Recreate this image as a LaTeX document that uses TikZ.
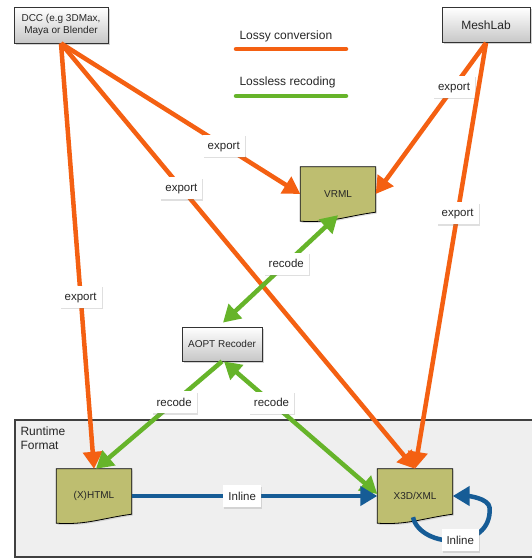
\documentclass[tikz,border=0pt]{standalone}
\usepackage{fontspec}
\setmainfont{Liberation Sans}
\usetikzlibrary{arrows.meta}
\usetikzlibrary{shadows}
\usetikzlibrary{backgrounds}
\definecolor{lossy}{RGB}{244,96,18}
\definecolor{lossless}{RGB}{102,180,42}
\definecolor{inlineblue}{RGB}{22,92,150}
\definecolor{docolive}{RGB}{190,190,112}
\definecolor{runtimegray}{RGB}{239,239,239}
\tikzstyle{tool}=[draw=black!80, line width=0.8pt, top color=white, bottom color=black!22,
                  drop shadow={opacity=0.35, shadow xshift=1.5pt, shadow yshift=-2pt},
                  align=center, font=\fontsize{10}{12}\selectfont]
\tikzstyle{doc}=[minimum width=75pt, minimum height=54pt, inner sep=0, font=\fontsize{10}{12}\selectfont]
\tikzstyle{lbl}=[fill=white, inner xsep=5pt, inner ysep=0pt, minimum height=22pt, text depth=0pt,
                 font=\fontsize{11.5}{13}\selectfont,
                 drop shadow={opacity=0.25, shadow xshift=1pt, shadow yshift=-1.5pt}]
\tikzstyle{flow}=[line width=4.5pt]
\tikzstyle{legendtxt}=[anchor=west, font=\fontsize{12}{14}\selectfont]

\begin{document}
\begin{tikzpicture}[x=1pt, y=-1pt, >={Triangle[length=17pt,width=19pt]},
                    every node/.style={text=black!85}]
    \useasboundingbox (0,0) rectangle (532,559);
    % tools
    \node[tool, minimum width=94pt, minimum height=36pt] (dcc) at (61,25) {DCC (e.g 3DMax,\\Maya or Blender};
    \node[tool, minimum width=88pt, minimum height=35pt, font=\fontsize{12}{14}\selectfont] (meshlab) at (486,25) {MeshLab};
    \node[tool, minimum width=80pt, minimum height=34pt] (aopt) at (222,344) {AOPT Recoder};
    % documents
    \node[doc] (vrml) at (338,194) {VRML};
    \node[doc] (xhtml) at (94,496) {(X)HTML};
    \node[doc] (x3d) at (415,496) {X3D/XML};
    % legend
    \node[legendtxt] (lossytxt) at (236,36) {Lossy conversion};
    \node[legendtxt] (losslesstxt) at (236,82) {Lossless recoding};
    \draw[flow, lossy, line cap=round] ([yshift=-13pt]lossytxt.west) -- +(110,0);
    \draw[flow, lossless, line cap=round] ([yshift=-14pt]losslesstxt.west) -- +(110,0);
    \begin{scope}[on background layer]
        \draw[draw=black!75, line width=1.5pt, fill=runtimegray] (15,420) rectangle (545,557);
        \node[anchor=north west, align=left, font=\fontsize{12}{14}\selectfont] (runtime) at (17,423) {Runtime\\Format};
        \foreach \d in {vrml,xhtml,x3d}
            \draw[line width=0.8pt, fill=docolive, drop shadow={opacity=0.25, shadow xshift=1pt, shadow yshift=-1.5pt}]
                (\d.north west) -- (\d.north east) -- ([yshift=9pt]\d.south east)
                .. controls ([xshift=-30pt,yshift=5pt]\d.south east) and ([xshift=30pt,yshift=-2pt]\d.south west) .. (\d.south west) -- cycle;
    \end{scope}
    % lossy
    \draw[flow, lossy, ->] (dcc.south) -- node[lbl, pos=0.595] {export} (xhtml.north);
    \draw[flow, lossy, ->] (dcc.south) -- node[lbl, pos=0.34] {export} (x3d.north);
    \draw[flow, lossy, ->] (dcc.south) -- node[lbl, pos=0.68] {export} (vrml.west);
    \draw[flow, lossy, ->] (meshlab.south) -- node[lbl, pos=0.29] {export} (vrml.east);
    \draw[flow, lossy, ->] (meshlab.south) -- node[lbl, pos=0.40] {export} (x3d.north);
    % lossless
    \draw[flow, lossless, <->] ([yshift=6pt]vrml.south) -- node[lbl, pos=0.45] {recode} ([xshift=1pt,yshift=4pt]aopt.north);
    \draw[flow, lossless, ->] (aopt.south) -- node[lbl, pos=0.38] {recode} ([xshift=2pt]xhtml.north);
    \draw[flow, lossless, <->] ([xshift=2pt]aopt.south) -- node[lbl, pos=0.31] {recode} ([yshift=2pt]x3d.west);
    % inline
    \draw[flow, inlineblue, ->] (xhtml.east) -- node[lbl, pos=0.45] {Inline} (x3d.west);
    \draw[flow, inlineblue, ->] ([xshift=-2pt,yshift=6pt]x3d.south) .. controls +(7,31) and +(2,44) .. node[lbl, pos=0.55] {Inline}
        ([xshift=37pt,yshift=-12pt]x3d.east) .. controls +(-1,-10) and +(15,0) .. (x3d.east);
\end{tikzpicture}
\end{document}
